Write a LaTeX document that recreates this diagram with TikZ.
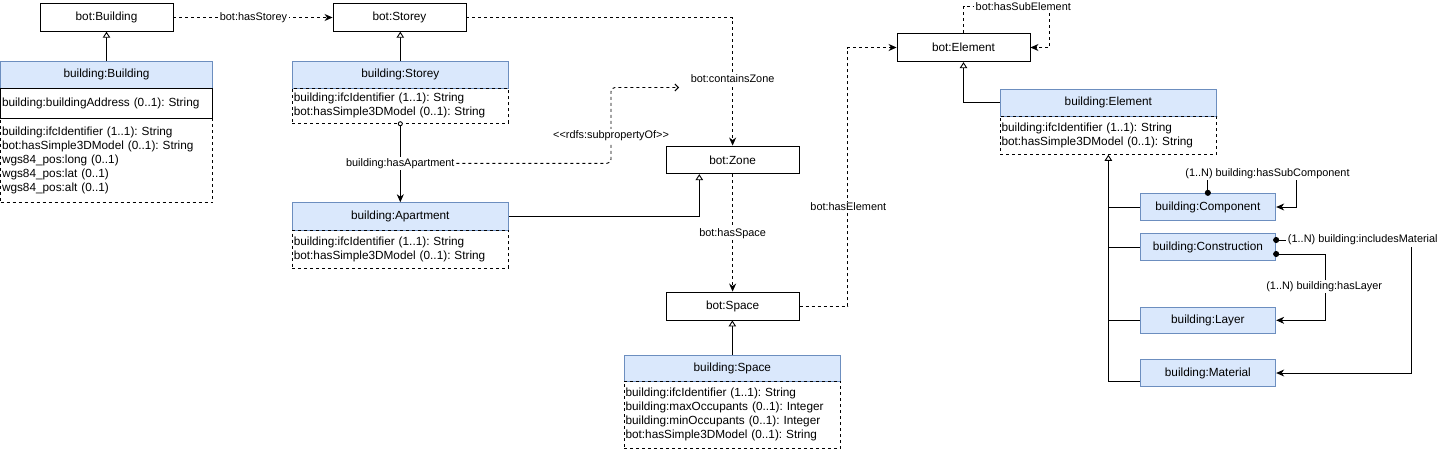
\documentclass[tikz,border=0pt]{standalone}
\usepackage{fontspec}
\setmainfont{Liberation Sans}
\usetikzlibrary{arrows.meta,calc}
\definecolor{hdrfill}{HTML}{DAE8FC}
\definecolor{hdrdraw}{HTML}{6C8EBF}
\frenchspacing
\begin{document}
\begin{tikzpicture}[x=1pt,y=-1pt,line width=0.9pt,
  every node/.style={font=\fontsize{11.8}{14}\selectfont,inner sep=0pt},
  botbox/.style={draw=black,fill=white,minimum width=133pt,minimum height=27.5pt},
  hdr/.style={draw=hdrdraw,fill=hdrfill,minimum width=216pt,minimum height=27pt},
  dline/.style={dash pattern=on 3pt off 3pt},
  attrbox/.style={draw=black,dline,align=left,inner xsep=1.5pt,inner ysep=0pt,text width=213pt},
  elabel/.style={font=\fontsize{10.9}{13}\selectfont,fill=white,inner sep=1.5pt},
  inh/.style={-{Triangle[open,length=6pt,width=7.5pt,fill=white]}},
  assoc/.style={-{Stealth[length=8pt,width=7pt,inset=2.5pt]}},
  dotstart/.style={{Circle[length=6pt]}-{Stealth[length=8pt,width=7pt,inset=2.5pt]},shorten <=-3pt}
]
\useasboundingbox (0,0) rectangle (1439,450);

% ---- classes
\node[botbox] (botBuilding) at (106.5,17.5) {bot:Building};
\node[botbox] (botStorey) at (399.5,17.5) {bot:Storey};

\node[hdr,minimum width=212pt,minimum height=26.5pt] (bBuilding) at (106.5,74.75) {building:Building};
\node[draw=black,align=left,inner xsep=1.5pt,text width=209pt,minimum height=30.3pt] (bBuildingAddr) at (106.5,103.15) {building:buildingAddress (0..1): String};
\node[attrbox,text width=209pt,minimum height=84.4pt] (bBuildingAttr) at (106.5,160.5) {building:ifcIdentifier (1..1): String\\bot:hasSimple3DModel (0..1): String\\wgs84\_pos:long (0..1)\\wgs84\_pos:lat (0..1)\\wgs84\_pos:alt (0..1)};

\node[hdr,minimum height=27.3pt] (bStorey) at (400.3,74.65) {building:Storey};
\node[attrbox,minimum height=35pt] (bStoreyAttr) at (400.3,105.8) {building:ifcIdentifier (1..1): String\\bot:hasSimple3DModel (0..1): String};

\node[hdr,minimum height=27.3pt] (bApartment) at (400.3,216.35) {building:Apartment};
\node[attrbox,minimum height=38.3pt] (bApartmentAttr) at (400.3,249.15) {building:ifcIdentifier (1..1): String\\bot:hasSimple3DModel (0..1): String};

\node[botbox,minimum height=27.7pt] (botZone) at (732.6,159.85) {bot:Zone};
\node[botbox,minimum height=28pt] (botSpace) at (732.6,306) {bot:Space};

\node[hdr,minimum width=216.7pt,minimum height=26pt] (bSpace) at (732.35,368) {building:Space};
\node[attrbox,text width=213.7pt,minimum height=67.3pt] (bSpaceAttr) at (732.35,414.65) {building:ifcIdentifier (1..1): String\\building:maxOccupants (0..1): Integer\\building:minOccupants (0..1): Integer\\bot:hasSimple3DModel (0..1): String};

\node[botbox,minimum height=28.4pt] (botElement) at (963.5,47.5) {bot:Element};
\node[hdr,minimum width=216.7pt,minimum height=26.7pt] (bElement) at (1108.35,102.65) {building:Element};
\node[attrbox,text width=213.7pt,minimum height=38.3pt] (bElementAttr) at (1108.35,135.15) {building:ifcIdentifier (1..1): String\\bot:hasSimple3DModel (0..1): String};

\node[hdr,minimum width=135.7pt,minimum height=27.4pt] (Component) at (1207.85,207) {building:Component};
\node[hdr,minimum width=135.7pt,minimum height=27.4pt] (Construction) at (1207.85,247) {building:Construction};
\node[hdr,minimum width=135.7pt,minimum height=26pt] (Layer) at (1207.85,320.3) {building:Layer};
\node[hdr,minimum width=135.7pt,minimum height=27.4pt] (Material) at (1207.85,373) {building:Material};

% ---- connectors
\draw[dline,assoc] (botBuilding.east) -- (botStorey.west);
\node[elabel] (lHasStorey) at (253.5,17.5) {bot:hasStorey};

\draw[inh] (bBuilding.north) -- (botBuilding.south);
\draw[inh] (bStorey.north) -- (bStorey.north |- botStorey.south);

\draw[dline,assoc] (botStorey.east) -| (botZone.north);
\node[elabel] (lContainsZone) at (732.6,79) {bot:containsZone};

\draw[{Circle[open,length=5pt,width=5pt,fill=white]}-{Stealth[length=8pt,width=7pt,inset=2.5pt]},shorten <=-2.5pt] (bStoreyAttr.south) -- (bApartment.north);
\node[elabel] (hasApt) at (400.3,163.3) {building:hasApartment};

\coordinate (spEnd) at (679,87.5);
\draw[dline,rounded corners=4pt,-{Straight Barb[length=3.5pt,width=7pt]}] (hasApt.east) -| ([xshift=-68pt]spEnd) -- (spEnd);
\node[elabel] (lSubProp) at (611,136) {\textless\kern0pt\textless\kern0pt rdfs:subpropertyOf\kern0pt\textgreater\kern0pt\textgreater};

\draw[inh] (bApartment.east) -| ([xshift=-33.3pt]botZone.south);

\draw[dline,assoc] (botZone.south) -- (botSpace.north);
\node[elabel] (lHasSpace) at (732.6,233.3) {bot:hasSpace};

\draw[inh] (bSpace.north) -- (bSpace.north |- botSpace.south);

\draw[dline,assoc] (botSpace.east) -| ([xshift=-48.7pt]botElement.west) -- (botElement.west);
\node[elabel] (lHasElement) at (848.3,207) {bot:hasElement};

\draw[dline,assoc] (botElement.north) -- ++(0,-26.8) -| ([xshift=19.3pt]botElement.east) -- (botElement.east);
\node[elabel] (lHasSubElement) at (1023.3,7) {bot:hasSubElement};

\draw[inh] (bElement.west) -| (botElement.south);

\draw[inh] ([yshift=-8.7pt]Material.west) -| (bElementAttr.south);
\draw (Component.west) -- (Component.west -| bElementAttr.south);
\draw (Construction.west) -- (Construction.west -| bElementAttr.south);
\draw (Layer.west) -- (Layer.west -| bElementAttr.south);

\draw[dotstart] (Component.north) -- ++(0,-16) -| ([xshift=20pt]Component.east) -- (Component.east);
\node[elabel] (lHasSubComp) at (1267.5,173.3) {(1..N) building:hasSubComponent};

\draw[dotstart] ([yshift=7pt]Construction.east) -- ++(135.3,0) |- (Material.east);
\node[elabel] (lInclMat) at (1362.8,240) {(1..N) building:includesMaterial};

\draw[dotstart] ([yshift=-7pt]Construction.east) -| ([xshift=49.3pt]Layer.east) -- (Layer.east);
\node[elabel] (lHasLayer) at (1324.2,286.7) {(1..N) building:hasLayer};
\end{tikzpicture}
\end{document}
